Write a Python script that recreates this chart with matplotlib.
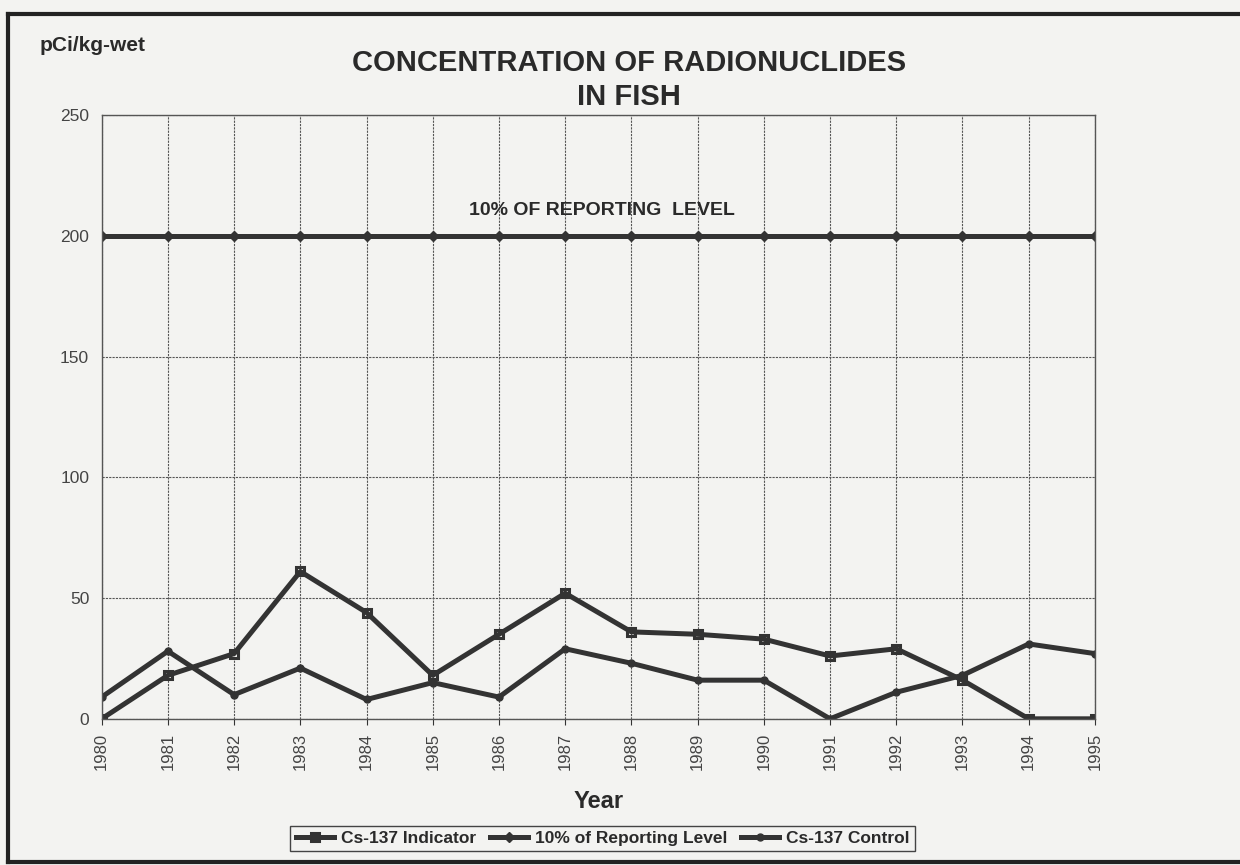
import matplotlib.pyplot as plt
from matplotlib.lines import Line2D

# Annual results, pCi/kg-wet
years = list(range(1980, 1996))
cs137_indicator = [0, 18, 27, 61, 44, 18, 35, 52, 36, 35, 33, 26, 29, 16, 0, 0]
cs137_control = [9, 28, 10, 21, 8, 15, 9, 29, 23, 16, 16, 0, 11, 18, 31, 27]
reporting_level = [200] * len(years)

ink = '#333333'
paper = '#f3f3f1'

plt.rcParams['font.family'] = ['Liberation Sans', 'DejaVu Sans']

fig = plt.figure(figsize=(12.4, 8.65), dpi=100, facecolor=paper)
ax = fig.add_axes([0.082, 0.169, 0.801, 0.698])
ax.set_facecolor(paper)

ax.plot(years, cs137_indicator, color=ink, lw=3.6, marker='s', ms=6,
        mfc='none', mew=2.2, label='Cs-137 Indicator')
ax.plot(years, reporting_level, color=ink, lw=3.6, marker='D', ms=5,
        label='10% of Reporting Level')
ax.plot(years, cs137_control, color=ink, lw=3.6, marker='o', ms=5,
        label='Cs-137 Control')

ax.text(1987.55, 207, '10% OF REPORTING  LEVEL', ha='center', va='bottom',
        fontsize=14, fontweight='bold', color='#2a2a2a')

ax.set_xlim(1980, 1995)
ax.set_ylim(0, 250)
ax.set_xticks(years)
ax.set_xticklabels([str(y) for y in years], rotation=90, fontsize=12, color='#444444')
ax.set_yticks(range(0, 251, 50))
ax.tick_params(axis='y', length=0, labelsize=12.5, labelcolor='#444444', pad=9)
ax.tick_params(axis='x', length=4, color=ink, pad=6)
ax.grid(True, color='#555555', lw=0.8, ls=(0, (2, 1)))
for s in ax.spines.values():
    s.set_color('#555555')
    s.set_linewidth(1.0)
ax.set_xlabel('Year', fontsize=17, fontweight='bold', color='#2a2a2a', labelpad=14)

fig.text(0.507, 0.927, 'CONCENTRATION OF RADIONUCLIDES', ha='center', va='center',
         fontsize=21, fontweight='bold', color='#2a2a2a')
fig.text(0.507, 0.888, 'IN FISH', ha='center', va='center',
         fontsize=21, fontweight='bold', color='#2a2a2a')
fig.text(0.032, 0.947, 'pCi/kg-wet', ha='left', va='center',
         fontsize=15, fontweight='bold', color='#2a2a2a')

leg = fig.legend(loc='lower center', bbox_to_anchor=(0.486, 0.006), ncol=3,
                 prop={'size': 12.5, 'weight': 'bold'}, frameon=True, fancybox=False,
                 edgecolor='#444444', facecolor=paper, framealpha=1, handlelength=2.2,
                 columnspacing=0.8, handletextpad=0.4, borderpad=0.3)
for t in leg.get_texts():
    t.set_color('#2a2a2a')

# page frame
fig.add_artist(Line2D([0.0065, 1.0], [0.984, 0.984], transform=fig.transFigure,
                      color='#222222', lw=3))
fig.add_artist(Line2D([0.0065, 0.0065], [0.004, 0.984], transform=fig.transFigure,
                      color='#222222', lw=3))
fig.add_artist(Line2D([0.0065, 1.0], [0.004, 0.004], transform=fig.transFigure,
                      color='#222222', lw=3))

fig.savefig('out.png', dpi=100, facecolor=paper)
